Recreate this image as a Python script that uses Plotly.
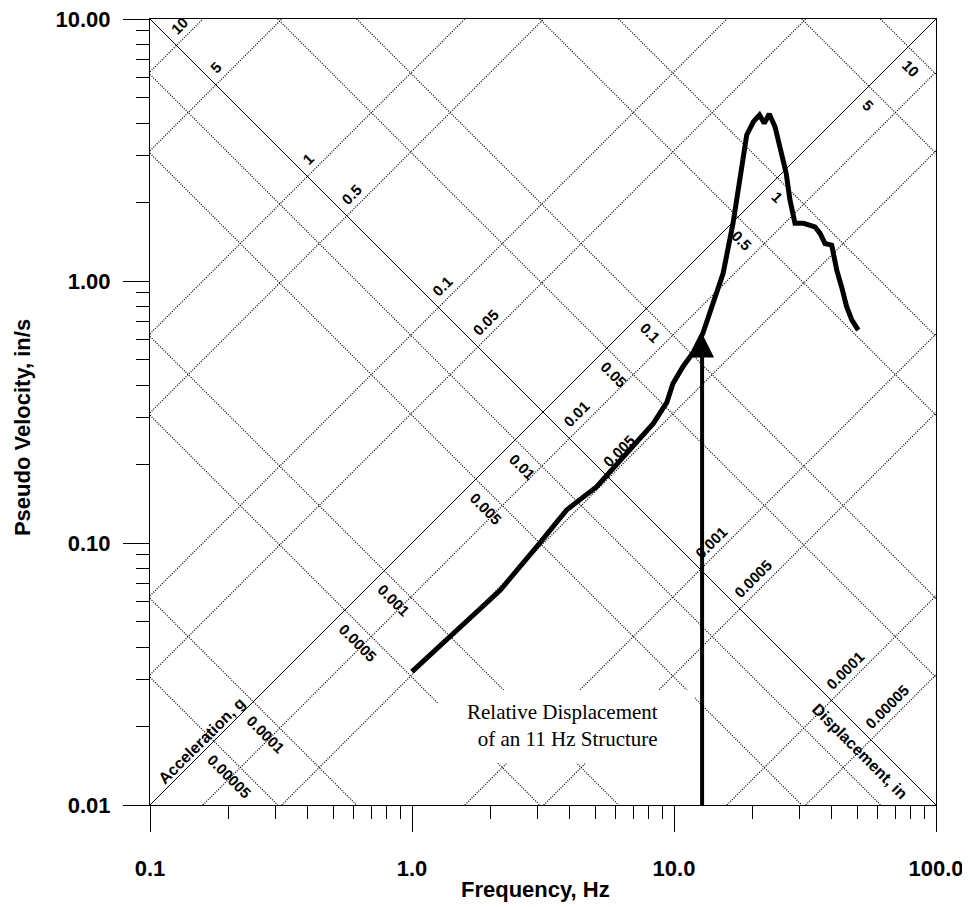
import math
import plotly.graph_objects as go

# ---------------- data ----------------
freq = [1.0, 1.4, 2.17, 3.0, 3.9, 5.07, 6.6, 8.34, 9.4, 9.9, 10.8, 11.8, 12.9,
        14.1, 15.4, 16.8, 17.6, 18.1, 18.95, 20.1, 21.2, 22.1, 23.1, 24.3, 25.4,
        26.8, 27.7, 28.96, 31.2, 34.5, 36.1, 37.7, 40.0, 41.8, 43.6, 45.6, 47.7, 50.5]
pseudo_vel = [0.0323, 0.044, 0.066, 0.097, 0.134, 0.164, 0.220, 0.286, 0.345, 0.405,
              0.47, 0.531, 0.633, 0.822, 1.07, 1.66, 2.23, 2.855, 3.61, 4.06, 4.30,
              4.0, 4.34, 3.88, 3.16, 2.58, 2.04, 1.66, 1.66, 1.61, 1.52, 1.39, 1.37,
              1.10, 0.951, 0.798, 0.71, 0.65]

disp_levels = [10, 5, 1, 0.5, 0.1, 0.05, 0.01, 0.005, 0.001, 0.0005, 0.0001, 0.00005]
disp_labels = ["10", "5", "1", "0.5", "0.1", "0.05", "0.01", "0.005", "0.001",
               "0.0005", "0.0001", "0.00005"]
acc_levels = [0.00005, 0.0001, 0.0005, 0.001, 0.005, 0.01, 0.05, 0.1, 0.5, 1, 5, 10]
acc_labels = ["0.00005", "0.0001", "0.0005", "0.001", "0.005", "0.01", "0.05",
              "0.1", "0.5", "1", "5", "10"]

x_tickvals = [0.1, 1, 10, 100]
x_ticktext = ["0.1", "1.0", "10.0", "100.0"]
y_tickvals = [0.01, 0.1, 1, 10]
y_ticktext = ["0.01", "0.10", "1.00", "10.00"]

arrow_freq = 12.8
arrow_base = 0.54
arrow_tip = 0.631

G = 386.09  # in/s^2 per g
F_MIN, F_MAX = 0.1, 100.0
V_MIN, V_MAX = 0.01, 10.0
TWO_PI = 2 * math.pi

fig = go.Figure()

# ---------------- dotted grid lines ----------------
gx, gy = [], []
for d in disp_levels:
    f0 = max(F_MIN, V_MIN / (TWO_PI * d))
    f1 = min(F_MAX, V_MAX / (TWO_PI * d))
    if f1 > f0:
        gx += [f0, f1, None]
        gy += [TWO_PI * d * f0, TWO_PI * d * f1, None]
for a in acc_levels:
    k = a * G / TWO_PI
    f0 = max(F_MIN, k / V_MAX)
    f1 = min(F_MAX, k / V_MIN)
    if f1 > f0:
        gx += [f0, f1, None]
        gy += [k / f0, k / f1, None]
fig.add_trace(go.Scatter(x=gx, y=gy, mode="lines", hoverinfo="skip",
                         line=dict(color="black", width=1.2, dash="1px,1.4px"),
                         showlegend=False))

# main solid diagonals
fig.add_trace(go.Scatter(x=[F_MIN, F_MAX, None, F_MIN, F_MAX],
                         y=[V_MAX, V_MIN, None, V_MIN, V_MAX],
                         mode="lines", line=dict(color="black", width=1),
                         hoverinfo="skip", showlegend=False))

# white box behind the note
bx = [1.257, 12.0, 12.0, 1.257, 1.257]
by = [0.01446, 0.01446, 0.0275, 0.0275, 0.01446]
fig.add_trace(go.Scatter(x=bx, y=by, mode="lines", fill="toself",
                         fillcolor="white", line=dict(width=0, color="white"),
                         hoverinfo="skip", showlegend=False))

# response curve
fig.add_trace(go.Scatter(x=freq, y=pseudo_vel, mode="lines",
                         line=dict(color="black", width=5),
                         showlegend=False))

# arrow
fig.add_trace(go.Scatter(x=[arrow_freq, arrow_freq], y=[V_MIN, arrow_base],
                         mode="lines", line=dict(color="black", width=4),
                         showlegend=False, hoverinfo="skip"))
fig.add_trace(go.Scatter(x=[arrow_freq], y=[arrow_tip], mode="markers",
                         marker=dict(symbol="arrow-up", size=24, color="black",
                                     line=dict(width=0)),
                         showlegend=False, hoverinfo="skip"))

# ---------------- diagonal labels ----------------
LBL = 15
annotations = []
s2 = math.sqrt(2)


def text_w(t, size):
    nd = sum(ch.isdigit() for ch in t)
    nn = t.count(".")
    return size * (0.556 * nd + 0.278 * nn)


lbl_font = dict(family="Liberation Sans, Arial", size=LBL, color="black", weight="bold")

for d, t in zip(disp_levels, disp_labels):
    f = 1 / math.sqrt(TWO_PI * d)
    v = 1 / f
    a = 8 + text_w(t, LBL) / 2
    u = 12
    dx = (a - u) / s2
    dy = (-a - u) / s2
    annotations.append(dict(x=math.log10(f), y=math.log10(v), xref="x", yref="y",
                            text=t, showarrow=False, textangle=-45,
                            xanchor="center", yanchor="middle",
                            xshift=dx, yshift=-dy, font=lbl_font))

for acc, t in zip(acc_levels, acc_labels):
    f = math.sqrt(10 * acc * G / TWO_PI)
    v = f / 10
    a = 9 + text_w(t, LBL) / 2
    u = -14
    dx = (a + u) / s2
    dy = (a - u) / s2
    annotations.append(dict(x=math.log10(f), y=math.log10(v), xref="x", yref="y",
                            text=t, showarrow=False, textangle=45,
                            xanchor="center", yanchor="middle",
                            xshift=dx, yshift=-dy, font=lbl_font))

ttl_font = dict(family="Liberation Sans, Arial", size=16, color="black", weight="bold")
annotations.append(dict(x=-0.7775, y=-1.7775, xref="x", yref="y",
                        text="Acceleration, g", showarrow=False, textangle=-45,
                        xanchor="center", yanchor="middle", xshift=-6.6, yshift=6.6,
                        font=ttl_font))
annotations.append(dict(x=1.753, y=-1.753, xref="x", yref="y",
                        text="Displacement, in", showarrow=False, textangle=45,
                        xanchor="center", yanchor="middle", xshift=-11.3, yshift=-11.3,
                        font=ttl_font))

annotations.append(dict(x=0.5744, y=-1.6947, xref="x", yref="y",
                        text="Relative Displacement<br>of an 11 Hz Structure",
                        showarrow=False, align="right",
                        xanchor="center", yanchor="middle",
                        font=dict(family="Liberation Serif, Times New Roman",
                                  size=21, color="black")))

# axis titles
axis_title_font = dict(family="Liberation Sans, Arial", size=22, color="black",
                       weight="bold")
annotations.append(dict(x=-0.1628, y=0.4796, xref="paper", yref="paper",
                        text="Pseudo Velocity, in/s", showarrow=False, textangle=-90,
                        xanchor="center", yanchor="middle", font=axis_title_font))
annotations.append(dict(x=0.491, y=-0.1069, xref="paper", yref="paper",
                        text="Frequency, Hz", showarrow=False,
                        xanchor="center", yanchor="middle", font=axis_title_font))

minor_x = [m * 10 ** e for e in (-1, 0, 1) for m in range(2, 10)]
minor_y = [m * 10 ** e for e in (-2, -1, 0) for m in range(2, 10)]

tick_font = dict(family="Liberation Sans, Arial", size=22, color="black", weight="bold")

# the page body adds an 8 px offset, so the figure is 8 px smaller on each axis
fig.update_layout(
    width=962, height=899,
    margin=dict(l=142, r=34, t=11, b=102, autoexpand=False),
    paper_bgcolor="white", plot_bgcolor="white",
    showlegend=False,
    annotations=annotations,
    xaxis=dict(type="log", range=[-1, 2], tickmode="array", automargin=False,
               tickvals=x_tickvals, ticktext=x_ticktext,
               ticks="outside", ticklen=26, tickwidth=1, tickcolor="black",
               showline=True, linecolor="black", linewidth=1, mirror=True,
               showgrid=False, zeroline=False, tickfont=tick_font,
               ticklabelstandoff=18, ticklabeloverflow="allow",
               minor=dict(tickmode="array", tickvals=minor_x, ticks="outside",
                          ticklen=13, tickwidth=1, tickcolor="black", showgrid=False)),
    yaxis=dict(type="log", range=[-2, 1], tickmode="array", automargin=False,
               tickvals=y_tickvals, ticktext=y_ticktext,
               ticks="outside", ticklen=26, tickwidth=1, tickcolor="black",
               showline=True, linecolor="black", linewidth=1, mirror=True,
               showgrid=False, zeroline=False, tickfont=tick_font,
               ticklabelstandoff=8, ticklabeloverflow="allow",
               minor=dict(tickmode="array", tickvals=minor_y, ticks="outside",
                          ticklen=13, tickwidth=1, tickcolor="black", showgrid=False)),
)

fig.write_html("out.html")
